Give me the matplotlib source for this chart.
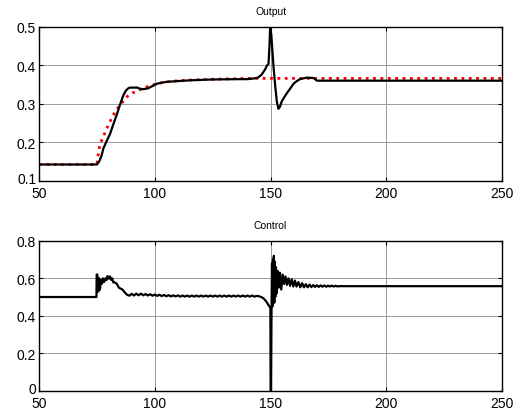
import numpy as np
import matplotlib.pyplot as plt
import matplotlib.transforms as mtransforms

plt.rcParams['font.family'] = ['Liberation Sans', 'DejaVu Sans']

# plant output (black) and reference model (red dotted)
out_t = [50, 75, 76, 77, 77.8, 79, 80.7, 82, 83.6, 85, 86.4, 87.5, 88.5, 89.3,
         91, 92.5, 93.5, 95.1, 97, 99, 100.9, 103, 105.2, 110, 115.3, 124,
         135, 140, 143, 144.5, 146, 147.5, 148.5, 149.1, 149.5, 149.8, 150.3,
         151.2, 152, 152.7, 153.4, 154, 154.8, 156.2, 157.3, 158.4, 159.9,
         161.3, 162.7, 165.6, 168.5, 170, 250]
out_y = [0.142, 0.142, 0.150, 0.165, 0.184, 0.200, 0.222, 0.245, 0.272, 0.298,
         0.322, 0.334, 0.340, 0.342, 0.342, 0.342, 0.339, 0.338, 0.340, 0.346,
         0.352, 0.355, 0.357, 0.359, 0.361, 0.363, 0.364, 0.364, 0.366, 0.368,
         0.375, 0.388, 0.400, 0.404, 0.45, 0.50, 0.48, 0.40, 0.345, 0.305,
         0.287, 0.292, 0.306, 0.320, 0.330, 0.339, 0.352, 0.359, 0.364, 0.368,
         0.367, 0.360, 0.360]

ref_t = [50, 75, 75.5, 76.3, 77.8, 79.3, 80.7, 82, 83.6, 85, 86.4, 87.9, 89.3,
         92.2, 96.5, 100.9, 105, 110, 120, 140, 250]
ref_y = [0.142, 0.142, 0.165, 0.194, 0.215, 0.236, 0.254, 0.270, 0.285, 0.297,
         0.307, 0.318, 0.325, 0.333, 0.344, 0.352, 0.357, 0.360, 0.363, 0.366,
         0.366]

# control signal
ctl_t = [50, 74.8, 74.9, 75.2, 75.4, 75.7, 76.0, 76.3, 76.7, 77.1, 77.6, 78.1,
         78.6, 79.1, 79.6, 80.1, 80.6, 81.1, 81.6, 82.1, 82.6, 83.5, 84.5,
         85.3, 86.0, 87.0, 88.0,
         89, 90, 91, 92, 93, 94, 95, 96, 97, 98, 99, 100, 101, 102, 103, 104,
         105, 106, 107, 108, 109, 110, 111, 112, 113, 114, 115, 116, 117, 118,
         119, 120, 121, 122, 123, 124, 125, 126, 127, 128, 129, 130, 131, 132,
         133, 134, 135, 136, 137, 138, 139, 140, 141, 142, 143, 144,
         145, 146, 147, 148, 149, 149.6, 149.9, 150.0, 150.2, 150.4, 150.6,
         150.8, 151.0, 151.2, 151.4, 151.6, 151.8, 152.0, 152.3, 152.6, 153.0,
         153.5, 154.0, 154.6, 155.2, 155.8, 156.4, 157.0, 157.7, 158.4, 159.1,
         159.8, 160.5, 161.2, 162.0, 162.8, 163.6, 164.4, 165.2, 166.0, 166.8,
         167.6, 168.4, 169.2, 170.0, 170.8, 171.6, 172.4, 173.2, 174.0, 174.8,
         175.6, 176.4, 177.2, 178.0, 178.8, 180, 250]
ctl_y = [0.5, 0.5, 0.62, 0.62, 0.53, 0.53, 0.60, 0.54, 0.59, 0.57, 0.60, 0.58,
         0.60, 0.59, 0.612, 0.598, 0.61, 0.592, 0.60, 0.578, 0.578, 0.572, 0.55,
         0.545, 0.54, 0.525, 0.512,
         0.507, 0.517, 0.508, 0.518, 0.509, 0.518, 0.509, 0.516, 0.508, 0.515,
         0.507, 0.513, 0.506, 0.512, 0.505, 0.511, 0.504, 0.510, 0.503, 0.509,
         0.503, 0.509, 0.502, 0.508, 0.502, 0.508, 0.502, 0.508, 0.502, 0.508,
         0.502, 0.508, 0.502, 0.508, 0.502, 0.508, 0.502, 0.508, 0.502, 0.508,
         0.502, 0.508, 0.502, 0.508, 0.502, 0.508, 0.502, 0.508, 0.502, 0.508,
         0.502, 0.508, 0.502, 0.508, 0.502, 0.506,
         0.504, 0.500, 0.492, 0.478, 0.458, 0.447, 0.442, 0.0, 0.0, 0.44, 0.68,
         0.45, 0.70, 0.47, 0.72, 0.47, 0.69, 0.50, 0.66, 0.52, 0.64,
         0.55, 0.63, 0.54, 0.62, 0.57, 0.61, 0.565, 0.600, 0.560, 0.595,
         0.556, 0.588, 0.556, 0.580, 0.552, 0.574, 0.552, 0.569, 0.552, 0.566,
         0.553, 0.564, 0.554, 0.563, 0.554, 0.562, 0.555, 0.562, 0.555, 0.561,
         0.556, 0.561, 0.556, 0.560, 0.557, 0.558, 0.558]

xlim = (50, 250)
xticks = [50, 100, 150, 200, 250]
out_yticks = [0.1, 0.2, 0.3, 0.4, 0.5]
ctl_yticks = [0, 0.2, 0.4, 0.6, 0.8]

fig = plt.figure(figsize=(5.27, 4.10), dpi=100)
ax1 = fig.add_axes([0.074, 0.557, 0.879, 0.375])
ax2 = fig.add_axes([0.074, 0.045, 0.879, 0.365])


def style(ax, yticks, ylabels, title):
    ax.set_xlim(*xlim)
    ax.set_ylim(yticks[0], yticks[-1])
    ax.set_xticks(xticks)
    ax.set_yticks(yticks)
    ax.set_yticklabels(ylabels)
    ax.grid(True, color='#999999', linewidth=0.7, linestyle='-')
    ax.set_axisbelow(True)
    ax.tick_params(direction='in', top=True, right=True, length=3,
                   labelsize=10, width=0.8)
    ax.tick_params(axis='x', pad=4)
    ax.tick_params(axis='y', pad=2)
    for s in ax.spines.values():
        s.set_linewidth(1.0)
    ax.set_title(title, fontsize=7.5, pad=9)


ax1.plot(ref_t, ref_y, color='red', linestyle=':', linewidth=2.0)
ax1.plot(out_t, out_y, color='black', linewidth=1.6)
style(ax1, out_yticks, ['0.1', '0.2', '0.3', '0.4', '0.5'], 'Output')

ax2.plot(ctl_t, ctl_y, color='black', linewidth=1.6)
style(ax2, ctl_yticks, ['0', '0.2', '0.4', '0.6', '0.8'], 'Control')

# lift the lowest y labels a little so they clear the x labels
lift = mtransforms.ScaledTranslation(0, 2 / 72, fig.dpi_scale_trans)
for ax in (ax1, ax2):
    lab = ax.get_yticklabels()[0]
    lab.set_transform(lab.get_transform() + lift)

fig.savefig('out.png', dpi=100)
